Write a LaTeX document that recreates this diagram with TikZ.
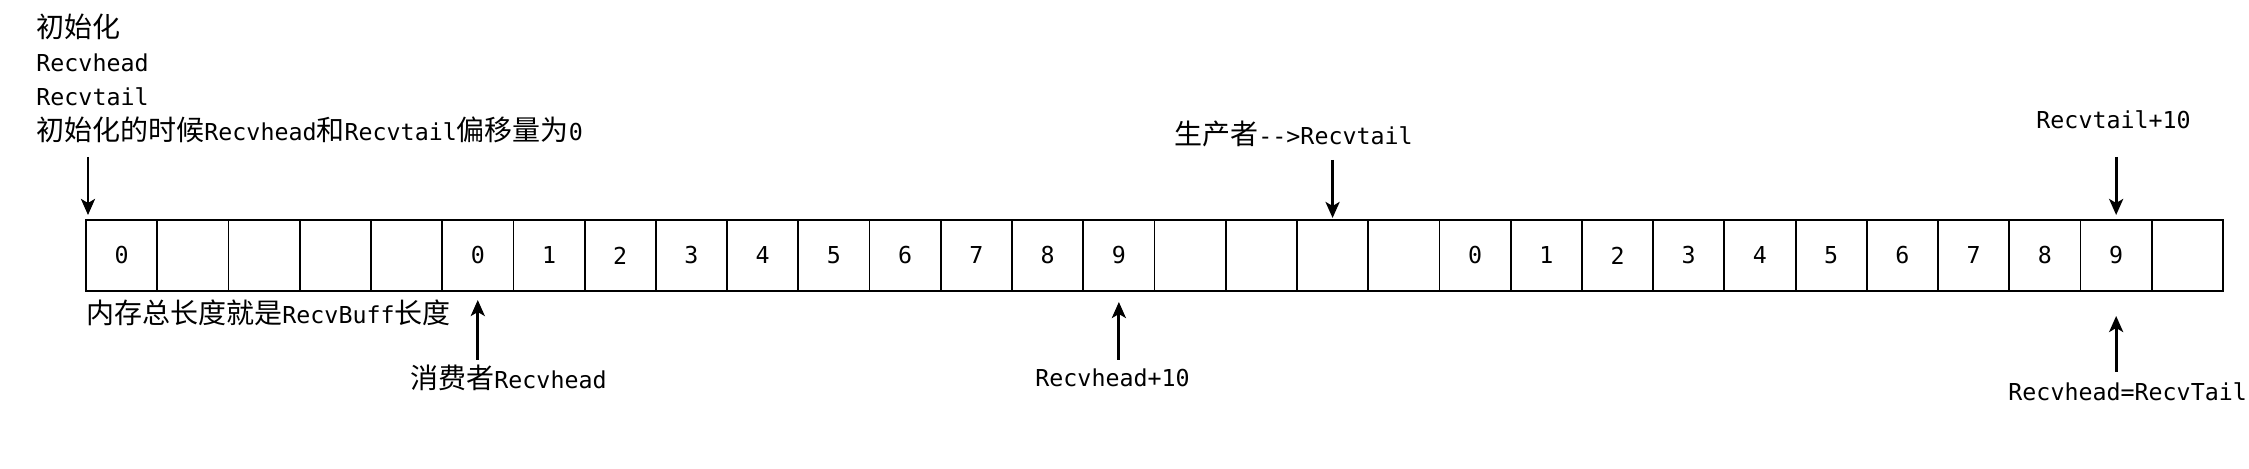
\documentclass[tikz,border=0pt]{standalone}
\usepackage{fontspec}
\setmainfont{DejaVu Sans Mono}
\newfontfamily\cjkfont{Noto Sans CJK SC}
\newcommand\zh[1]{{\cjkfont\fontsize{14pt}{17pt}\selectfont #1}}
\usetikzlibrary{arrows.meta,calc}
\begin{document}
\begin{tikzpicture}[x=0.5pt,y=-0.5pt,
  cell/.style={draw,line width=0.9pt,minimum width=35.617pt,minimum height=35.5pt,inner sep=0pt,outer sep=0pt,font=\fontsize{11.65pt}{14pt}\selectfont},
  lbl/.style={inner sep=0pt,anchor=base west,font=\fontsize{11.65pt}{14pt}\selectfont},
  arr/.style={line width=1.4pt,-{Stealth[length=8pt,width=7pt,inset=2pt]}}]
\useasboundingbox[fill=white] (0,0) rectangle (2249,469);
\foreach \t [count=\n from 0] in {0,{},{},{},{},0,1,2,3,4,5,6,7,8,9,{},{},{},{},0,1,2,3,4,5,6,7,8,9,{}}
  \node[cell] (c\n) at ({86+71.233*(\n+0.5)},255.5) {\t};
% texts
\node[lbl] (init) at (36,38) {\zh{初始化}};
\node[lbl] (rh) at (36,72) {Recvhead};
\node[lbl] (rt) at (36,106) {Recvtail};
\node[lbl] (desc) at (36,141) {\zh{初始化的时候}Recvhead\zh{和}Recvtail\zh{偏移量为}0};
\node[lbl] (prod) at (1174,145) {\zh{生产者}-{}-{}>Recvtail};
\node[lbl] (tail10) at (2036,129) {Recvtail+10};
\node[lbl] (len) at (86,324) {\zh{内存总长度就是}RecvBuff\zh{长度}};
\node[lbl] (cons) at (410,389) {\zh{消费者}Recvhead};
\node[lbl] (head10) at (1035,387) {Recvhead+10};
\node[lbl] (eq) at (2008,401) {Recvhead=RecvTail};
% arrows
\coordinate (a1) at (88,157);
\draw[arr,shorten >=2.5pt] (a1) -- (a1 |- c0.north);
\draw[arr,shorten >=1pt] ($(c17.north)+(0,-60)$) -- (c17.north);
\draw[arr,shorten >=2.5pt] ($(c28.north)+(0,-63)$) -- (c28.north);
\draw[arr,shorten >=4.5pt] ($(c5.south)+(0,69)$) -- (c5.south);
\draw[arr,shorten >=5.5pt] ($(c14.south)+(0,69)$) -- (c14.south);
\draw[arr,shorten >=12.5pt] ($(c28.south)+(0,81)$) -- (c28.south);
\end{tikzpicture}
\end{document}
